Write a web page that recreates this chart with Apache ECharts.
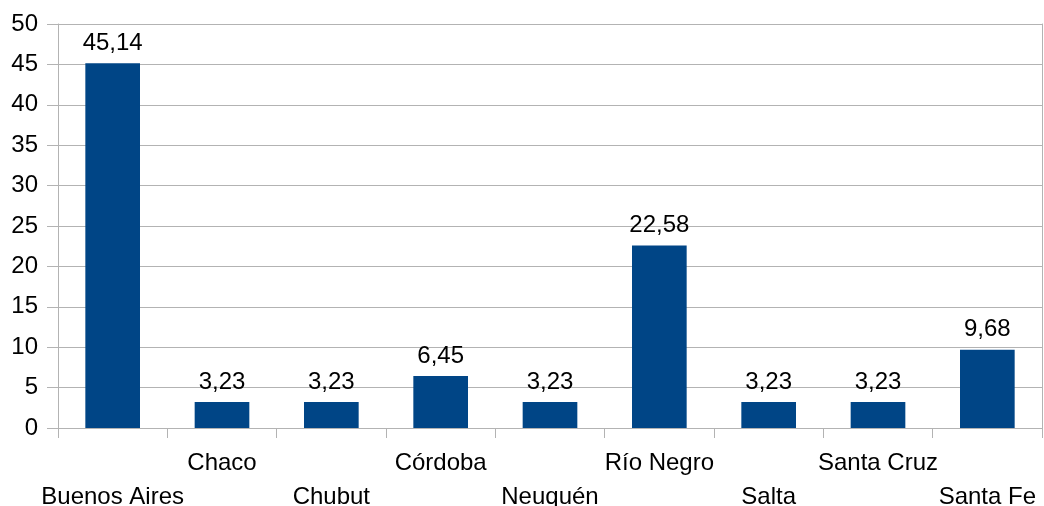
<!DOCTYPE html>
<html><head><meta charset="utf-8">
<script src="https://cdn.jsdelivr.net/npm/echarts@6/dist/echarts.min.js"></script>
<style>html,body{margin:0;padding:0;background:#fff}#c{width:1044px;height:506px}</style>
</head><body><div id="c"></div>
<script>
const categories = ['Buenos Aires','Chaco','Chubut','Córdoba','Neuquén','Río Negro','Salta','Santa Cruz','Santa Fe'];
const values = [45.14, 3.23, 3.23, 6.45, 3.23, 22.58, 3.23, 3.23, 9.68];
const yTicks = [0,5,10,15,20,25,30,35,40,45,50];

const chart = echarts.init(document.getElementById('c'));
const font = 'Liberation Sans, Arial, sans-serif';
chart.setOption({
  animation: false,
  grid: {left: 58, right: 2, top: 24, bottom: 78, containLabel: false, outerBoundsMode: 'none'},
  xAxis: {
    type: 'category', data: categories,
    axisLine: {lineStyle: {color: '#b3b3b3', width: 1}},
    axisTick: {show: true, length: 10, lineStyle: {color: '#b3b3b3'}},
    axisLabel: {
      interval: 0, margin: 18, color: '#000', fontSize: 24, fontFamily: font, lineHeight: 34,
      formatter: (v, i) => (i % 2 === 0 ? '\n' + v : v)
    }
  },
  yAxis: [{
    type: 'value', min: yTicks[0], max: yTicks[yTicks.length-1], interval: 5,
    axisLine: {show: true, lineStyle: {color: '#b3b3b3'}},
    axisTick: {show: true, length: 11, lineStyle: {color: '#b3b3b3'}},
    splitLine: {lineStyle: {color: '#b3b3b3'}},
    axisLabel: {color: '#000', fontSize: 24, fontFamily: font, margin: 20}
  }, {
    type: 'value', position: 'right', min: 0, max: 50, interval: 5,
    axisLine: {show: true, lineStyle: {color: '#b3b3b3'}},
    axisTick: {show: false}, axisLabel: {show: false}, splitLine: {show: false}
  }],
  series: [{
    type: 'bar', data: values, barWidth: '50%',
    itemStyle: {color: '#004586'},
    label: {
      show: true, position: 'top', distance: 8, color: '#000', fontSize: 24, fontFamily: font,
      formatter: p => p.value.toFixed(2).replace('.', ',')
    }
  }]
});
</script></body></html>
